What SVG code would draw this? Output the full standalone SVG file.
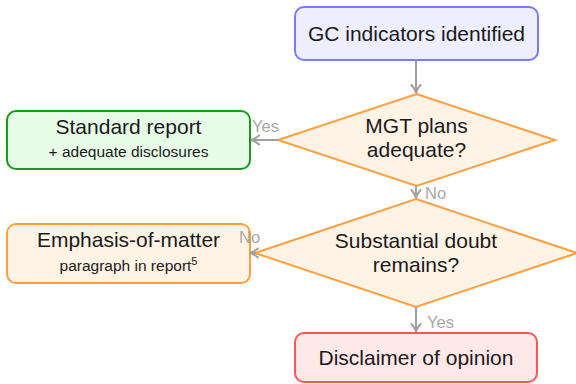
<svg xmlns="http://www.w3.org/2000/svg" width="576" height="384" viewBox="0 0 576 384">
<style>
.t{font-family:"Liberation Sans",Arial,sans-serif;fill:#1a1a1a;text-anchor:middle}
.big{font-size:21px}
.small{font-size:15.5px}
.lbl{font-family:"Liberation Sans",Arial,sans-serif;font-size:16.5px;fill:#a8a8a8}
.edge{stroke:#a0a0a0;stroke-width:2;fill:none;marker-end:url(#arr)}
.box{stroke-width:2}
</style>
<defs>
<marker id="arr" viewBox="0 0 12 12" refX="10" refY="6" markerWidth="12" markerHeight="12" markerUnits="userSpaceOnUse" orient="auto">
<path d="M2,1.5 Q6,5 10,6 Q6,7 2,10.5" fill="none" stroke="#a0a0a0" stroke-width="2" stroke-linecap="round"/>
</marker>
</defs>
<g id="gc">
<rect class="box" x="295" y="7" width="243" height="53" rx="9" fill="#eeeeff" stroke="#7b7bff"/>
<text class="t big" x="416.5" y="41">GC indicators identified</text>
</g>
<g id="mgt">
<polygon class="box" points="416.5,94 555,140 416.5,186 278,140" fill="#fff3e6" stroke="#ffa040"/>
<text class="t big" x="416.5" y="133">MGT plans</text>
<text class="t big" x="416.5" y="157">adequate?</text>
</g>
<g id="standard">
<rect class="box" x="7" y="111" width="243" height="58" rx="9" fill="#e8fde8" stroke="#1a9a1a"/>
<text class="t big" x="128.5" y="134">Standard report</text>
<text class="t small" x="128.5" y="157">+ adequate disclosures</text>
</g>
<g id="doubt">
<polygon class="box" points="416,199 577,253 416,307 255,253" fill="#fff3e6" stroke="#ffa040"/>
<text class="t big" x="416" y="248">Substantial doubt</text>
<text class="t big" x="416" y="272">remains?</text>
</g>
<g id="emphasis">
<rect class="box" x="7" y="224" width="243" height="59" rx="9" fill="#fff3e6" stroke="#ffa040"/>
<text class="t big" x="128.5" y="247">Emphasis-of-matter</text>
<text class="t small" x="128.5" y="271">paragraph in report<tspan font-size="11px" dy="-6">5</tspan></text>
</g>
<g id="disclaimer">
<rect class="box" x="295" y="333" width="242" height="49" rx="9" fill="#ffe8e8" stroke="#ff5555"/>
<text class="t big" x="416" y="365">Disclaimer of opinion</text>
</g>
<g id="connectors">
<line class="edge" x1="416" y1="61" x2="416" y2="93"/>
<line class="edge" x1="278" y1="140" x2="251" y2="140"/>
<line class="edge" x1="416" y1="186" x2="416" y2="198"/>
<line class="edge" x1="256" y1="253" x2="250" y2="253"/>
<line class="edge" x1="416" y1="307" x2="416" y2="332"/>
<text class="lbl" x="252" y="132">Yes</text>
<text class="lbl" x="425" y="199">No</text>
<text class="lbl" x="239" y="243">No</text>
<text class="lbl" x="427" y="328">Yes</text>
</g>
</svg>
